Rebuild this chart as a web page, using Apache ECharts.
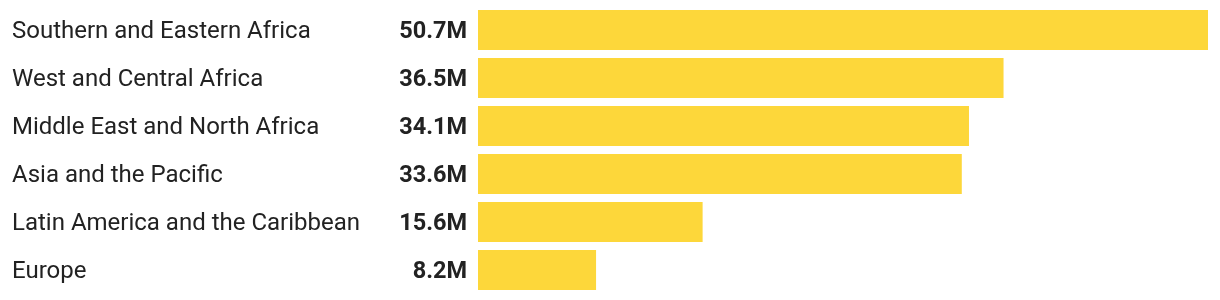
<!DOCTYPE html>
<html>
<head>
<meta charset="utf-8">
<script src="https://cdn.jsdelivr.net/npm/echarts@6/dist/echarts.min.js"></script>
<style>
  html, body { margin: 0; padding: 0; background: #fff; }
  #chart { width: 1220px; height: 300px; }
</style>
</head>
<body>
<div id="chart"></div>
<script>
// Regions and their values (millions)
const regions = [
  'Southern and Eastern Africa',
  'West and Central Africa',
  'Middle East and North Africa',
  'Asia and the Pacific',
  'Latin America and the Caribbean',
  'Europe'
];
const values = [50.7, 36.5, 34.1, 33.6, 15.6, 8.2];

const chart = echarts.init(document.getElementById('chart'), null, { renderer: 'canvas' });
chart.setOption({
  animation: false,
  grid: { left: 478, top: 6, width: 730, height: 288, containLabel: false },
  xAxis: {
    type: 'value', min: 0, max: 50.7,
    show: false
  },
  yAxis: {
    type: 'category',
    data: regions,
    inverse: true,
    axisLine: { show: false },
    axisTick: { show: false },
    axisLabel: {
      align: 'left',
      margin: 466,
      formatter: v => '{t|' + v + '}',
      rich: {
        t: {
          color: '#222222',
          fontFamily: 'Roboto',
          fontSize: 24,
          padding: [4, 0, 0, 0]
        }
      }
    }
  },
  series: [{
    type: 'bar',
    data: values,
    barWidth: 40,
    itemStyle: { color: '#FDD73A' },
    label: {
      show: true,
      position: 'left',
      distance: 11,
      offset: [0, 2],
      formatter: p => p.value + 'M',
      color: '#222222',
      fontFamily: 'Roboto',
      fontWeight: 'bold',
      fontSize: 23.5
    }
  }]
});
</script>
</body>
</html>
